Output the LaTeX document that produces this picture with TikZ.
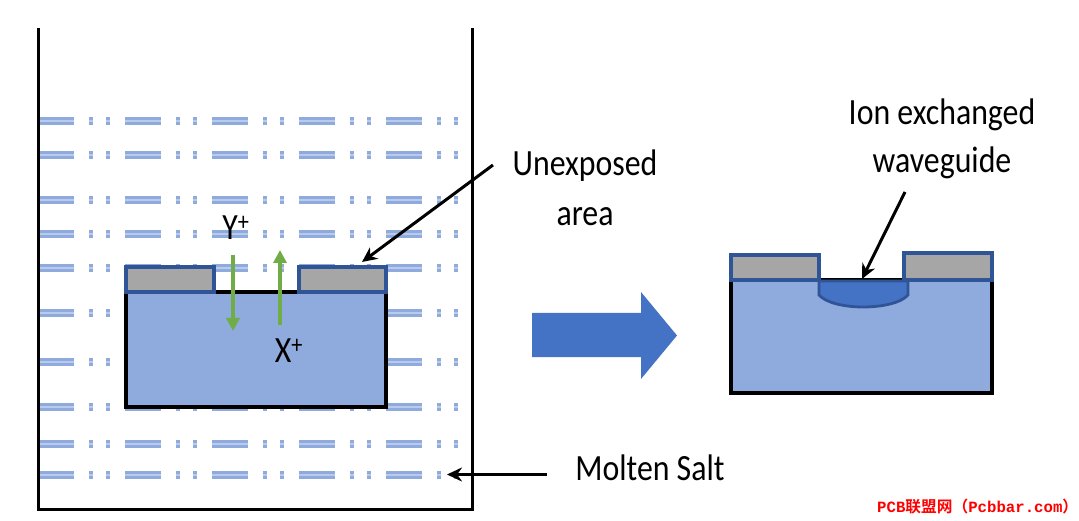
\documentclass[tikz,border=0pt]{standalone}
\usepackage{fontspec}
\setmainfont{Carlito}
\newfontfamily\cjkfont{Noto Sans CJK SC}[BoldFont={* Bold}]
\newfontfamily\markfont{Liberation Mono}
\usetikzlibrary{arrows.meta}
\definecolor{saltblue}{HTML}{8FAADC}
\definecolor{saltpale}{HTML}{B9CAEA}
\definecolor{maskgray}{HTML}{A6A6A6}
\definecolor{edgeblue}{HTML}{2F5597}
\definecolor{guideblue}{HTML}{4472C4}
\definecolor{ionsgreen}{HTML}{70AD47}
\tikzset{
    saltline/.style={draw=saltblue,line width=3pt,double=saltpale,double distance=1.4pt,
        dash pattern=on 36pt off 15pt on 4pt off 13pt on 4pt off 15pt},
    mask/.style={fill=maskgray,draw=edgeblue,line width=3.2pt},
    substrate/.style={fill=saltblue},
    pointer/.style={line width=3pt,-{Stealth[length=15pt,width=14pt]}},
    ionarrow/.style={draw=ionsgreen,line width=4pt,-{Triangle[length=13pt,width=13pt]}},
    lbl/.style={font=\fontsize{37}{40}\selectfont,align=center,inner sep=0pt,xscale=.86}
}
\begin{document}
\begin{tikzpicture}[x=1pt,y=-1pt]
\useasboundingbox (0,0) rectangle (1079,521);

\foreach \row in {121,155,200,234,268,313,362,407,444,475}{
    \draw[saltline] (38,\row) -- (474,\row);
}
\draw[line width=3pt] (38,28) -- (38,509) -- (472,509) -- (472,28);

\fill[substrate] (126,292) rectangle (386,407);
\draw[line width=3.5pt] (126,292) -- (126,407) -- (386,407) -- (386,292);
\draw[line width=3.5pt] (214,292) -- (299,292);
\draw[mask] (126,267) rectangle (214,292);
\draw[mask] (299,267) rectangle (386,292);

\coordinate (Yin) at (233,255);
\coordinate (Yout) at (233,331);
\coordinate (Xin) at (280,325);
\coordinate (Xout) at (280,250);
\draw[ionarrow] (Yin) -- (Yout);
\draw[ionarrow] (Xin) -- (Xout);
\node[lbl] (Ylabel) at (236,228) {Y\textsuperscript{+}};
\node[lbl] (Xlabel) at (289,351) {X\textsuperscript{+}};

\fill[guideblue] (532,313) -- (641,313) -- (641,292) -- (677,335.5)
    -- (641,379) -- (641,357) -- (532,357) -- cycle;

\fill[substrate] (731,280) rectangle (992,393);
\draw[line width=3.5pt] (731,280) -- (731,393) -- (992,393) -- (992,280);
\draw[line width=3.5pt] (819,280) -- (904,280);
\draw[mask] (731,255) rectangle (819,280);
\draw[mask] (904,253) rectangle (992,280);
\draw[fill=guideblue,draw=edgeblue,line width=2.8pt] (819,281) -- (819,295)
    .. controls (826,303) and (845,307) .. (863,307)
    .. controls (882,307) and (901,303) .. (908,295) -- (908,281) -- cycle;

\node[lbl] (unexposed) at (585,188) {Unexposed\\[10pt]area};
\node[lbl] (ionguide) at (942,139) {Ion exchanged\\[8pt]waveguide};
\node[lbl] (molten) at (650,468) {Molten Salt};

\coordinate (maskend) at (362,262);
\coordinate (unexpstart) at (493,165);
\coordinate (guideend) at (862,279);
\coordinate (guidestart) at (905,192);
\coordinate (saltend) at (447,474.5);
\coordinate (saltstart) at (547,474.5);
\draw[pointer] (unexpstart) -- (maskend);
\draw[pointer] (guidestart) -- (guideend);
\draw[pointer] (saltstart) -- (saltend);

\node[text=red,inner sep=0pt,anchor=west,font=\fontsize{15.7}{18}\selectfont] (watermark) at (877,507)
    {\markfont\bfseries PCB{\cjkfont\bfseries 联盟网（}Pcbbar.com{\cjkfont\bfseries ）}};
\end{tikzpicture}
\end{document}
